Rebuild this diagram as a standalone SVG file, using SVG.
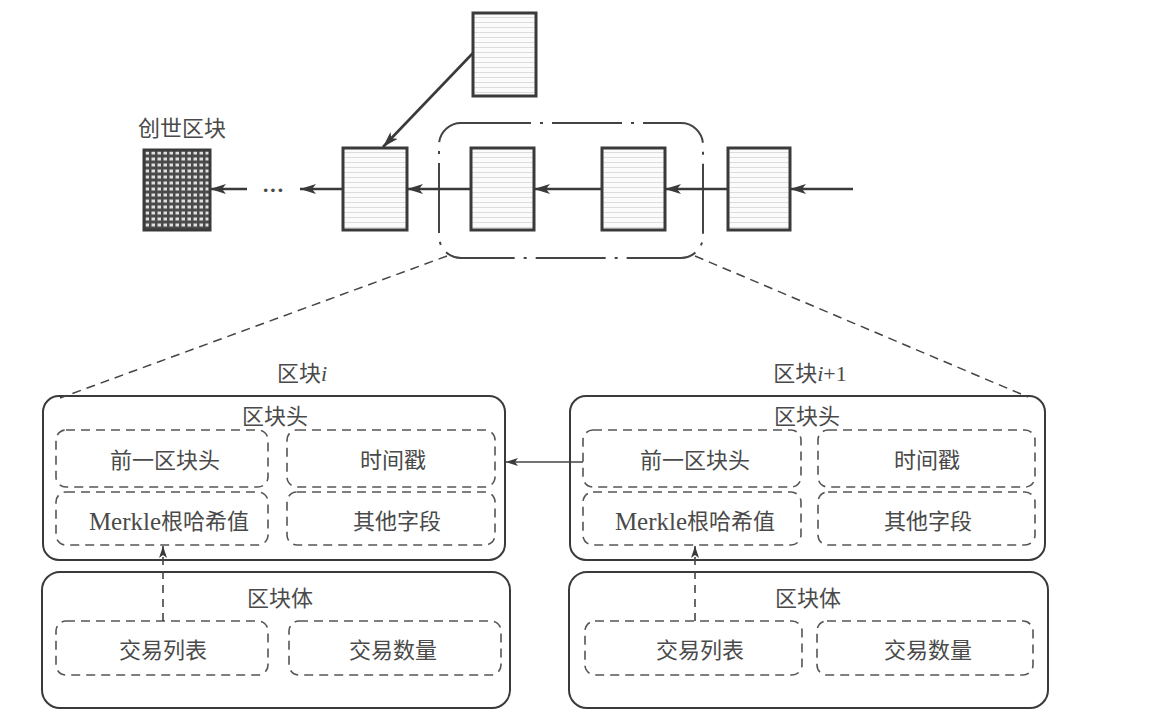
<svg xmlns="http://www.w3.org/2000/svg" width="1150" height="722" viewBox="0 0 1150 722">
<defs>
<style>
.t{font-family:"Liberation Serif","Noto Sans CJK SC",serif;font-size:22px;fill:#4a4a4a;text-anchor:middle;dominant-baseline:central}
.m{font-size:25px}
.blk{fill:url(#lines);stroke:#3a3a3a;stroke-width:3}
.arr{stroke:#3a3a3a;stroke-width:2.6;fill:none;marker-end:url(#ah)}
.outer{fill:none;stroke:#3a3a3a;stroke-width:2}
.inner{fill:none;stroke:#555;stroke-width:1.6;stroke-dasharray:9 6}
.dl{fill:none;stroke:#444;stroke-width:1.5;stroke-dasharray:9 6}
</style>
<marker id="ah" markerWidth="16" markerHeight="10" refX="16" refY="5" orient="auto" markerUnits="userSpaceOnUse">
<path d="M0,0 L16,5 L0,10 L4,5 Z" fill="#3a3a3a"/>
</marker>
<marker id="ahs" markerWidth="12" markerHeight="8" refX="12" refY="4" orient="auto" markerUnits="userSpaceOnUse">
<path d="M0,0 L12,4 L0,8 L3,4 Z" fill="#3a3a3a"/>
</marker>
<pattern id="lines" width="8" height="5" patternUnits="userSpaceOnUse">
<rect width="8" height="5" fill="#fbfbfb"/>
<line x1="0" y1="2.5" x2="8" y2="2.5" stroke="#dcdcdc" stroke-width="1"/>
</pattern>
<pattern id="grid" width="6" height="6" patternUnits="userSpaceOnUse">
<rect width="6" height="6" fill="#4a4a4a"/>
<rect x="1.5" y="1.5" width="3.5" height="3" fill="#e0e0e0"/>
</pattern>
</defs>
<rect width="1150" height="722" fill="#ffffff"/>

<g id="genesis-label"><text class="t" x="182" y="128">创世区块</text></g>
<g id="genesis"><rect x="144" y="150" width="66" height="80" fill="url(#grid)" stroke="#3a3a3a" stroke-width="3"/></g>
<g id="ellipsis"><text class="t" x="273" y="189" font-weight="bold">···</text></g>
<g id="block2"><rect class="blk" x="343" y="148" width="64" height="82"/></g>
<g id="orphan"><rect class="blk" x="473" y="13" width="63" height="83"/></g>
<g id="block3"><rect class="blk" x="471" y="148" width="63" height="82"/></g>
<g id="block4"><rect class="blk" x="602" y="148" width="63" height="82"/></g>
<g id="block5"><rect class="blk" x="728" y="148" width="62" height="82"/></g>
<g id="selection"><rect x="439" y="123" width="264" height="135" rx="22" fill="none" stroke="#444" stroke-width="2" stroke-dasharray="70 9 3 9"/></g>

<g id="block-i">
<text class="t" x="302" y="373">区块<tspan font-style="italic">i</tspan></text>
<rect class="outer" x="43" y="396" width="462" height="164" rx="16"/>
<text class="t" x="275" y="416">区块头</text>
<rect class="inner" x="56" y="430" width="212" height="57" rx="10"/>
<rect class="inner" x="287" y="430" width="208" height="57" rx="10"/>
<rect class="inner" x="56" y="492" width="212" height="53" rx="10"/>
<rect class="inner" x="287" y="492" width="208" height="53" rx="10"/>
<text class="t" x="165" y="460">前一区块头</text>
<text class="t" x="393" y="460">时间戳</text>
<text class="t" x="169" y="521"><tspan class="m">Merkle</tspan>根哈希值</text>
<text class="t" x="397" y="521">其他字段</text>
<rect class="outer" x="42" y="572" width="468" height="136" rx="18"/>
<text class="t" x="280" y="598">区块体</text>
<rect class="inner" x="56" y="621" width="212" height="54" rx="10"/>
<rect class="inner" x="289" y="621" width="212" height="54" rx="10"/>
<text class="t" x="163" y="650">交易列表</text>
<text class="t" x="393" y="650">交易数量</text>
</g>

<g id="block-i1">
<text class="t" x="810" y="373">区块<tspan font-style="italic">i</tspan>+1</text>
<rect class="outer" x="570" y="396" width="475" height="164" rx="16"/>
<text class="t" x="807" y="416">区块头</text>
<rect class="inner" x="583" y="430" width="218" height="57" rx="10"/>
<rect class="inner" x="818" y="430" width="217" height="57" rx="10"/>
<rect class="inner" x="583" y="492" width="218" height="53" rx="10"/>
<rect class="inner" x="818" y="492" width="217" height="53" rx="10"/>
<text class="t" x="695" y="460">前一区块头</text>
<text class="t" x="927" y="460">时间戳</text>
<text class="t" x="695" y="521"><tspan class="m">Merkle</tspan>根哈希值</text>
<text class="t" x="928" y="521">其他字段</text>
<rect class="outer" x="569" y="572" width="479" height="136" rx="18"/>
<text class="t" x="808" y="598">区块体</text>
<rect class="inner" x="585" y="621" width="217" height="54" rx="10"/>
<rect class="inner" x="817" y="621" width="216" height="54" rx="10"/>
<text class="t" x="700" y="650">交易列表</text>
<text class="t" x="928" y="650">交易数量</text>
</g>

<g id="connectors">
<line class="arr" x1="853" y1="189" x2="790" y2="189"/>
<line class="arr" x1="728" y1="189" x2="665" y2="189"/>
<line class="arr" x1="602" y1="189" x2="534" y2="189"/>
<line class="arr" x1="471" y1="189" x2="407" y2="189"/>
<line class="arr" x1="343" y1="189" x2="300" y2="189"/>
<line class="arr" x1="247" y1="189" x2="210" y2="189"/>
<line class="arr" x1="473" y1="53" x2="383" y2="147"/>
<line class="dl" x1="447" y1="256" x2="60" y2="398"/>
<line class="dl" x1="695" y1="256" x2="1028" y2="397"/>
<line x1="583" y1="462" x2="506" y2="462" stroke="#444" stroke-width="1.6" marker-end="url(#ahs)"/>
<line x1="163" y1="621" x2="163" y2="546" stroke="#444" stroke-width="1.6" stroke-dasharray="8 6" marker-end="url(#ahs)"/>
<line x1="695" y1="621" x2="695" y2="546" stroke="#444" stroke-width="1.6" stroke-dasharray="8 6" marker-end="url(#ahs)"/>
</g>
</svg>
